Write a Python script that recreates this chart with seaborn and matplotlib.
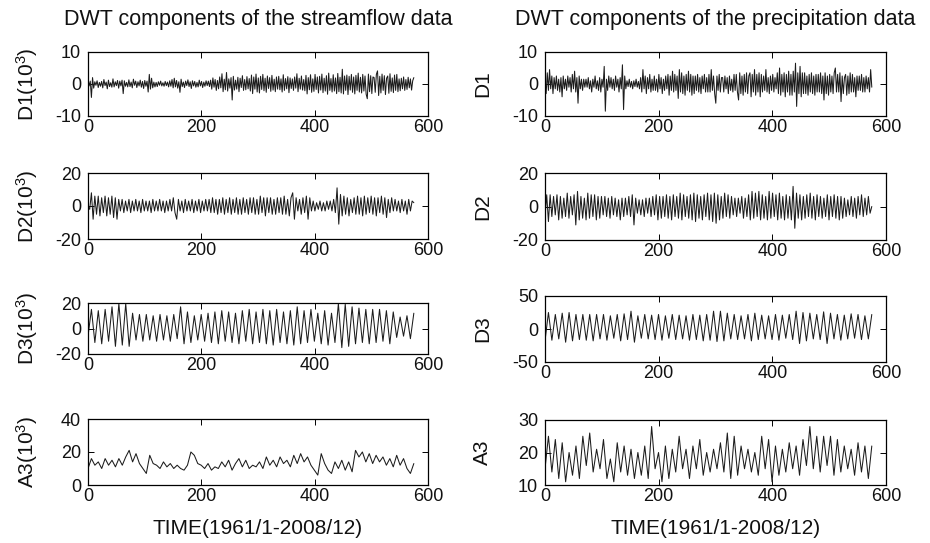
import numpy as np
import pandas as pd
import seaborn as sns
import matplotlib
matplotlib.use("Agg")
import matplotlib.pyplot as plt

# ---------------- data ----------------
titles = ["DWT components of the streamflow data", "DWT components of the precipitation data"]
xlabel = "TIME(1961/1-2008/12)"
left_labels = [r"D1(10$^3$)", r"D2(10$^3$)", r"D3(10$^3$)", r"A3(10$^3$)"]
right_labels = ["D1", "D2", "D3", "A3"]
x_ticks = [0, 200, 400, 600]
left_yticks = [[-10, 0, 10], [-20, 0, 20], [-20, 0, 20], [0, 20, 40]]
right_yticks = [[-10, 0, 10], [-20, 0, 20], [-50, 0, 50], [10, 20, 30]]
last_month = 575

flow_D1 = [
    1.5, -0.6, 0.9, -4.2, 2.0, -1.3, 0.7, -0.4, 1.0, -1.1, 0.5, -0.7,
    0.8, -1.2, 1.4, -0.5, 0.6, -1.5, 1.2, -0.8, 0.4, -1.0, 1.6, -0.9,
    0.7, -0.5, 1.1, -1.3, 0.9, -0.6, 1.2, -3.0, 1.0, -0.7, 0.5, -0.9,
    1.3, -0.8, 0.6, -1.2, 1.5, -0.4, 0.9, -1.1, 0.7, -0.6, 1.2, -1.0,
    0.8, -1.4, 1.1, -0.7, 0.9, -2.5, 3.0, -1.6, 1.8, -1.2, 0.6, -0.9,
    0.5, -0.8, 0.7, -0.4, 0.9, -0.6, 0.4, -0.7, 0.8, -0.5, 0.6, -0.9,
    1.0, -0.7, 1.4, -1.2, 1.8, -0.9, 1.1, -1.3, 0.7, -2.6, 1.5, -0.8,
    0.6, -1.1, 0.9, -0.5, 1.3, -0.8, 0.7, -1.4, 1.0, -0.6, 0.8, -1.0,
    0.5, -0.9, 1.2, -0.6, 0.8, -1.1, 0.6, -0.7, 1.0, -0.5, 0.9, -0.8,
    1.2, -1.6, 1.9, -1.0, 1.4, -2.0, 1.1, -1.5, 2.2, -1.2, 3.2, -2.4,
    1.5, -1.8, 3.6, -2.2, 1.6, -1.3, 2.0, -5.0, 2.4, -1.9, 1.2, -1.6,
    2.1, -2.4, 1.8, -1.1, 2.6, -2.0, 1.4, -1.8, 2.3, -1.5, 1.7, -2.2,
    2.8, -3.0, 2.2, -1.6, 3.1, -2.5, 1.9, -2.8, 2.4, -1.7, 3.0, -2.1,
    1.8, -2.6, 2.5, -1.4, 2.0, -2.3, 2.7, -1.9, 1.5, -2.4, 2.2, -1.6,
    2.4, -1.8, 1.6, -2.5, 2.9, -2.0, 1.7, -1.5, 2.3, -2.7, 1.9, -1.4,
    1.6, -2.0, 2.2, -1.3, 3.2, -2.4, 1.8, -1.6, 2.5, -1.9, 1.4, -2.1,
    2.7, -3.1, 2.0, -1.8, 2.9, -2.6, 1.6, -2.3, 3.0, -1.7, 2.2, -2.8,
    2.4, -1.9, 3.1, -2.7, 1.8, -2.2, 2.6, -3.2, 3.4, -2.0, 1.7, -2.5,
    2.9, -2.2, 1.9, -3.0, 3.3, -2.4, 2.1, -2.8, 4.6, -3.1, 2.5, -2.0,
    2.8, -3.3, 2.4, -1.9, 3.0, -2.6, 2.2, -3.1, 2.7, -2.0, 3.4, -2.5,
    2.1, -2.8, 3.0, -2.2, 2.5, -3.2, -4.6, 3.1, -2.4, 2.6, -3.0, 2.2,
    2.0, -2.6, 3.0, 4.1, -3.6, 2.4, -2.8, 3.1, -2.0, 2.6, -3.3, 1.8,
    2.5, -2.9, 3.2, -2.3, 1.9, -2.7, 2.8, -2.0, 3.0, -2.4, 1.6, -2.1,
    1.8, -1.5, 2.2, -2.0, 1.4, -1.7, 2.1, -1.2, 1.6, -1.9, 1.0, 2.0,
]

prec_D1 = [
    1.0, -3.0, 3.5, -2.0, 4.5, -1.5, 2.5, -3.0, 2.0, -1.5, 2.5, -2.0,
    1.5, -2.5, 2.0, -4.0, 2.5, -1.5, 1.5, -2.0, 2.5, -1.0, 2.0, -2.5,
    3.0, -1.5, 4.0, -2.5, 2.0, -6.0, 2.5, -1.5, 1.5, -2.0, 1.5, -1.0,
    1.5, -1.0, 2.0, -1.5, 1.0, -2.5, 1.5, -1.0, 2.5, -1.5, 1.0, -2.0,
    2.0, -2.5, 1.5, -1.0, 5.5, -8.5, 1.5, -2.0, 2.5, -1.0, 2.0, -1.5,
    1.5, -2.0, 2.5, -1.0, 1.5, -2.5, 2.0, -1.5, 6.0, -8.0, 2.5, -1.5,
    1.0, -0.8, 1.5, -1.0, 0.8, -1.5, 1.0, -0.8, 1.5, -1.0, 0.8, -1.5,
    2.0, -2.5, 4.5, -1.5, 2.5, -3.0, 2.0, -1.5, 3.0, -2.5, 1.5, -2.0,
    2.5, -2.0, 1.5, -2.5, 3.0, -1.5, 2.0, -3.0, 1.5, -2.0, 2.5, -1.5,
    3.0, -3.5, 2.5, -2.0, 4.0, -2.5, 3.0, -2.0, 2.5, -4.5, 4.5, -2.5,
    3.5, -3.0, 2.5, -3.5, 3.0, -2.0, 4.0, -2.5, 3.0, -3.5, 2.5, -3.0,
    2.5, -2.0, 3.0, -2.5, 2.0, -3.0, 2.5, -1.5, 3.0, -2.5, 2.0, -2.5,
    3.0, -2.5, 4.5, -2.0, 2.5, -3.0, -6.0, 2.5, -2.0, 3.0, -2.5, 2.0,
    2.0, -2.5, 2.5, -1.5, 2.0, -3.0, 2.5, -2.0, 1.5, -2.5, 3.0, -2.0,
    3.0, -2.5, -5.0, 3.5, -3.0, 2.5, -3.5, 3.0, -2.5, 3.5, -3.0, 2.5,
    3.5, -4.0, 3.0, -2.5, 4.5, -3.5, 3.0, -2.5, 3.5, -4.0, 3.0, -2.5,
    2.5, -2.0, 4.5, -2.5, 2.0, -3.0, 2.5, -2.0, 3.0, -2.5, 2.0, -1.5,
    3.5, -3.0, 5.0, -3.5, 3.0, -2.5, 3.5, -4.0, 3.0, -2.5, 4.0, -3.5,
    3.0, -3.5, 4.0, -2.5, 6.5, -7.0, 3.5, -3.0, 5.5, -4.0, 3.5, -3.0,
    3.5, -3.0, 2.5, -3.5, 3.0, -2.5, 3.5, -3.0, 2.5, -3.5, 3.0, -2.5,
    3.0, -2.5, 3.5, -3.0, 2.5, -5.0, 3.5, -3.0, 2.5, -3.5, 3.0, -2.5,
    2.5, -3.0, 3.5, 5.0, -2.5, 3.0, -2.5, 3.5, -5.5, 2.5, -3.0, 2.0,
    3.0, -3.5, 2.5, -3.0, 3.5, -2.5, 3.0, -2.5, 2.0, -4.0, 2.5, -2.0,
    2.5, -2.0, 3.0, -2.5, 2.0, -2.5, 2.5, -1.5, 2.0, -2.5, 4.5, -1.0,
]

flow_D2 = [
    0, -2, 8, -8, 6, -5, 6, -6, 5, -4, 6, -6,
    5, -5, 6, -7, 5, -8, 4, -3, 4, -4, 3, -3,
    4, -4, 3, -3, 4, -3, 3, -4, 4, -3, 3, -3,
    3, -4, 4, -3, 3, -3, 4, -3, 3, -4, 3, -3,
    4, -3, 5, -4, -8, 4, -3, 3, -4, 4, -3, 3,
    -3, 4, -4, 3, -3, 4, -4, 3, -3, 4, -3, 4,
    -4, 5, -4, 4, -5, 4, -4, 5, -5, 4, -4, 5,
    -5, 4, -4, 5, -5, 4, -5, 5, -4, 4, -5, 5,
    -4, 5, -5, 4, -5, 6, -4, 5, -6, 5, -4, 5,
    -5, 4, -5, 5, -4, 5, -5, 6, -5, 4, -6, 5,
    8, -8, 5, -3, 4, -5, 5, -4, 6, -8, 5, -3,
    3, -3, 2, -2, 3, -3, 2, -3, 3, -2, 3, -3,
    4, -4, 11, -11, 7, -6, 6, -5, 5, -6, 4, -4,
    5, -5, 6, -5, 5, -6, 6, -5, 5, -4, 6, -5,
    5, -6, 5, -4, 6, -5, 5, -7, 4, -4, 5, -3,
    4, -3, 3, -4, 4, -3, 3, -5, 4, -3, 3, 2,
]

prec_D2 = [
    -6, 7, -9, 7, -6, 6, -5, 7, -8, 6, -7, 5,
    -6, 8, -7, 6, -5, 7, -11, 9, -8, 6, -7, 5,
    -8, 8, -7, 7, -6, 7, -8, 6, -7, 6, -5, 6,
    -6, 5, -7, 6, -5, 5, -6, 4, -8, 5, -6, 5,
    -5, 6, -6, 7, -11, 5, -4, 4, -5, 4, -6, 5,
    -4, 5, -6, 6, -5, 7, -8, 6, -7, 6, -6, 7,
    -7, 6, -8, 7, -6, 6, -7, 8, -8, 7, -6, 6,
    -7, 7, -8, 8, -9, 7, -7, 6, -8, 7, -6, 8,
    -8, 7, -9, 8, -10, 7, -8, 6, -7, 8, -6, 7,
    -7, 6, -5, 5, -6, 5, -4, 6, -7, 5, -6, 7,
    -8, 9, -7, 8, -6, 9, -8, 7, -7, 6, -8, 9,
    -7, 8, -6, 7, -8, 8, -7, 6, -8, 7, -7, 6,
    -8, 12, -13, 8, -7, 7, -8, 6, -7, 7, -6, 8,
    -7, 6, -8, 7, -6, 6, -7, 5, -6, 7, -8, 6,
    -6, 7, -7, 6, -8, 6, -7, 5, -6, 4, -5, 6,
    -6, 5, -7, 6, -5, 7, -6, 5, -5, 6, -4, 0,
]

flow_D3 = [
    -6, 15, -11, 14, -12, 15, -10, 17, -14, 19.5, -13, 19.5,
    -14, 12, -9, 11, -10, 11, -9, 10, -10, 11, -9, 10,
    -10, 11, -8, 17, -12, 13, -11, 10, -9, 11, -10, 12,
    -11, 13, -12, 14, -10, 13, -11, 12, -12, 14, -10, 15,
    -12, 13, -11, 15, -12, 14, -13, 15, -11, 13, -12, 14,
    -13, 17, -12, 14, -11, 15, -10, 12, -12, 14, -13, 12,
    -11, 19.5, -15, 19, -14, 17, -12, 16, -11, 15, -12, 15,
    -11, 15, -10, 14, -12, 13, -7, 9, -6, 10, -8, 12,
]

prec_D3 = [
    -18, 25, -17, 22, -15, 24, -20, 25, -18, 22, -16, 22,
    -17, 22, -18, 22, -15, 22, -17, 20, -14, 22, -18, 23,
    -16, 27, -20, 20, -14, 22, -15, 21, -16, 22, -17, 20,
    -14, 22, -16, 21, -15, 20, -17, 22, -16, 21, -18, 22,
    -17, 27, -19, 27, -18, 24, -15, 22, -16, 20, -15, 22,
    -18, 24, -16, 21, -15, 20, -16, 22, -17, 21, -14, 22,
    -16, 27, -22, 25, -18, 24, -15, 22, -16, 26, -22, 24,
    -15, 22, -17, 21, -15, 23, -14, 22, -16, 20, -15, 22,
]

flow_A3 = [
    10, 16, 12, 14, 10, 16, 12, 15, 11, 16, 12, 17,
    21, 14, 19, 13, 10, 7, 18, 13, 12, 10, 14, 11,
    13, 10, 12, 10, 9, 12, 20, 18, 13, 12, 10, 13,
    9, 11, 10, 14, 11, 15, 9, 13, 16, 11, 15, 10,
    12, 11, 14, 10, 17, 12, 15, 11, 17, 13, 15, 11,
    18, 13, 19, 14, 17, 12, 9, 6, 19, 13, 9, 7,
    14, 10, 15, 9, 14, 8, 21, 17, 20, 14, 19, 13,
    18, 14, 17, 12, 16, 11, 18, 12, 16, 10, 7, 13,
]

prec_A3 = [
    15, 25, 14, 24, 12, 23, 11, 20, 13, 22, 12, 25,
    16, 26, 14, 21, 15, 24, 12, 18, 11, 23, 14, 22,
    13, 21, 12, 20, 13, 22, 12, 28, 15, 20, 11, 22,
    12, 21, 14, 25, 15, 21, 12, 22, 15, 24, 13, 20,
    14, 21, 15, 23, 14, 26, 12, 25, 13, 22, 15, 21,
    14, 20, 13, 25, 15, 24, 11, 22, 13, 21, 14, 23,
    15, 22, 13, 24, 16, 28, 15, 25, 14, 25, 16, 25,
    13, 24, 14, 22, 15, 21, 13, 23, 14, 22, 12, 22,
]

left_series = [flow_D1, flow_D2, flow_D3, flow_A3]
right_series = [prec_D1, prec_D2, prec_D3, prec_A3]

# ---------------- styling ----------------
sns.set_theme(style="ticks")
plt.rcParams["font.family"] = ["Liberation Sans", "DejaVu Sans"]
plt.rcParams["mathtext.default"] = "regular"
plt.rcParams["axes.unicode_minus"] = False

W, H = 930, 543
fig = plt.figure(figsize=(W / 100, H / 100), dpi=100)
fig.patch.set_facecolor("white")

def pos(x0, x1, yt, yb):
    return [x0 / W, 1 - yb / H, (x1 - x0) / W, (yb - yt) / H]

left_rows = [(52, 116), (173, 239), (303, 354), (419, 485)]
right_rows = [(52, 116), (173, 240), (296, 362), (420, 485)]
cols = [(88, 428), (545, 886)]
label_x = [-0.142, -0.155]

line_color = "#1c1c1c"

def draw(ax, values, yticks, ylabel, lx):
    n = len(values)
    t = np.linspace(0, last_month, n)
    df = pd.DataFrame({"t": t, "v": values})
    sns.lineplot(data=df, x="t", y="v", ax=ax, color=line_color,
                 linewidth=0.75, estimator=None, sort=False)
    ax.set_xlim(0, 600)
    ax.set_ylim(yticks[0], yticks[-1])
    ax.set_xticks(x_ticks)
    ax.set_yticks(yticks)
    ax.tick_params(axis="both", which="major", direction="in", length=4,
                   width=0.7, color="black", labelsize=13, labelcolor="#111111",
                   top=True, right=True)
    ax.tick_params(axis="x", pad=2)
    ax.tick_params(axis="y", pad=5)
    for s in ax.spines.values():
        s.set_linewidth(0.9)
        s.set_color("black")
    ax.set_xlabel("")
    ax.set_ylabel(ylabel, fontsize=15, color="#111111")
    ax.yaxis.set_label_coords(lx, 0.5)
    ax.set_facecolor("white")

for c, (rows, series, labels, ticks) in enumerate([
        (left_rows, left_series, left_labels, left_yticks),
        (right_rows, right_series, right_labels, right_yticks)]):
    x0, x1 = cols[c]
    for r in range(4):
        yt, yb = rows[r]
        ax = fig.add_axes(pos(x0, x1, yt, yb))
        draw(ax, series[r], ticks[r], labels[r], label_x[c])
        if r == 0:
            ax.text(0.5, 1 + (yt - 20) / (yb - yt),
                    titles[c], transform=ax.transAxes, ha="center", va="center",
                    fontsize=15.5, color="#111111")
        if r == 3:
            ax.text(0.5, -(528 - yb) / (yb - yt), xlabel, transform=ax.transAxes,
                    ha="center", va="center", fontsize=15, color="#111111")

fig.savefig("out.png", dpi=100)
